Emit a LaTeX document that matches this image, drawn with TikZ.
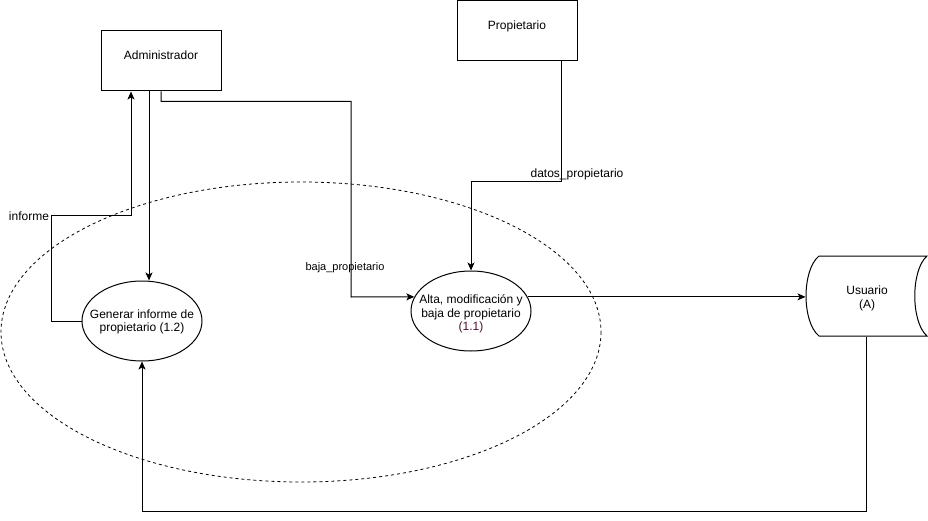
\documentclass[tikz,border=0pt]{standalone}
\usepackage{fontspec}
\setmainfont{Liberation Sans}
\usetikzlibrary{arrows.meta,shapes.geometric,calc}
\definecolor{idred}{HTML}{4C1130}
\begin{document}
\begin{tikzpicture}[x=1pt,y=-1pt,
  line width=1pt,
  box/.style={draw,rectangle,minimum width=120pt,minimum height=60pt,inner sep=0pt},
  proc/.style={draw,ellipse,minimum width=120pt,minimum height=80pt,inner sep=0pt},
  txt/.style={inner sep=0pt,align=center,font=\fontsize{12}{13.5}\selectfont},
  lbl/.style={inner sep=0pt,font=\fontsize{12}{14}\selectfont},
  slbl/.style={inner sep=0pt,font=\fontsize{11}{13}\selectfont},
  arr/.style={-{Stealth[length=8pt,width=7pt,inset=2pt]}},
  scopeline/.style={dash pattern=on 3pt off 3pt,line width=0.8pt}
]
\useasboundingbox (0,0) rectangle (928,521);

% scope boundary
\draw[scopeline] (301,332) ellipse [x radius=300, y radius=150];

% external entities
\node[box] (adm) at (161,61) {};
\node[txt] (admt) at (161,55) {Administrador};
\node[box] (prop) at (517,31) {};
\node[txt] (propt) at (517,26) {Propietario};

% processes
\node[proc] (gen) at (142,321) {};
\node[txt] (gent) at (142,322) {Generar informe de\\propietario (1.2)};
\node[proc] (alta) at (471,311) {};
\node[txt] (altat) at (471,314) {Alta, modificación y\\baja de propietario\\\textcolor{idred}{(1.1)}};

% data store
\node[minimum width=120pt,minimum height=80pt,inner sep=0pt] (usr) at (866,296) {};
\draw (819,256) -- (927,256)
  .. controls (910.7,270) and (910.7,322) .. (927,336)
  -- (819,336)
  .. controls (801.7,322) and (801.7,270) .. (819,256);
\node[txt] (usrt) at (867,298.5) {Usuario\\(A)};

% coordinates for bends
\coordinate (inf) at (51,216);
\coordinate (bj) at (351,297);

% connectors
\draw[arr] ([xshift=-12pt]adm.south) -- ([xshift=-12pt]adm.south |- gen.north);
\draw[arr] (gen.west) -| (inf) -| ([xshift=-30pt]adm.south);
\draw[arr] (adm.south) -- ++(0,10) -| (bj) -- (alta.166);
\draw[arr] ([xshift=44pt]prop.south) -- ++(0,120) -| (alta.north);
\draw[arr] (alta.14) -- (alta.14 -| usr.west);
\draw[arr] (usr.south) -- ++(0,175) -| (gen.south);

% labels
\node[lbl] (infl) at (29,216.5) {informe};
\node[slbl] (bjl) at (345,268) {baja\_propietario};
\node[lbl] (dpl) at (577,174) {datos\_propietario};
\end{tikzpicture}
\end{document}
